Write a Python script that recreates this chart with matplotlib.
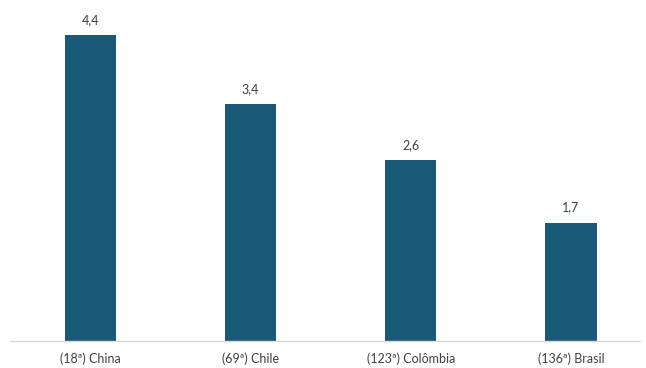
import matplotlib.pyplot as plt

# dados
paises = ["(18ª) China", "(69ª) Chile", "(123ª) Colômbia", "(136ª) Brasil"]
valores = [4.4, 3.4, 2.6, 1.7]
rotulos = ["4,4", "3,4", "2,6", "1,7"]

cor_barra = "#1a5977"

fig = plt.figure(figsize=(6.46, 3.68), dpi=100)
ax = fig.add_axes([10 / 646, 27 / 368, 630 / 646, 341 / 368])

x = list(range(len(paises)))
barras = ax.bar(x, valores, width=0.32, color=cor_barra, zorder=2)

for b, txt in zip(barras, rotulos):
    ax.text(b.get_x() + b.get_width() / 2, b.get_height() + 0.13, txt,
            ha="center", va="bottom", fontsize=9, color="#404040",
            family="Lato")

ax.set_xlim(-0.5, 3.43)
ax.set_ylim(0, 4.9)
ax.set_xticks(x)
ax.set_xticklabels(paises, fontsize=9, color="#404040", family="Lato")
ax.tick_params(axis="x", length=0, pad=8)
ax.set_yticks([])

for lado in ["top", "right", "left"]:
    ax.spines[lado].set_visible(False)
ax.spines["bottom"].set_color("#d9d9d9")
ax.spines["bottom"].set_linewidth(1)

fig.savefig("out.png", dpi=100)
